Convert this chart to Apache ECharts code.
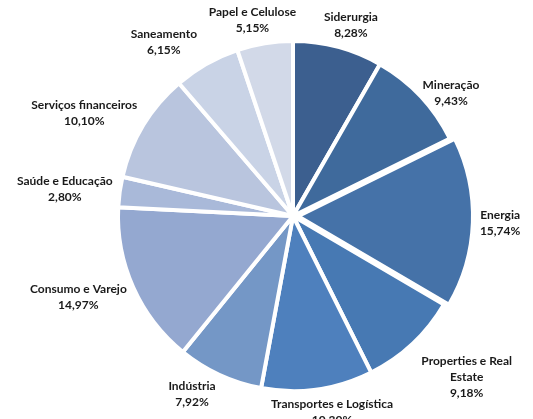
<!DOCTYPE html>
<html><head><meta charset="utf-8">
<script src="https://cdn.jsdelivr.net/npm/echarts@6/dist/echarts.min.js"></script>
<style>html,body{margin:0;padding:0;background:#fff}#c{width:533px;height:419px}</style>
</head><body><div id="c"></div>
<script>
const categories = ['Siderurgia','Mineração','Energia','Properties e Real\nEstate','Transportes e Logística','Indústria','Consumo e Varejo','Saúde e Educação','Serviços financeiros','Saneamento','Papel e Celulose'];
const values = [8.28, 9.43, 15.74, 9.18, 10.30, 7.92, 14.97, 2.80, 10.10, 6.15, 5.15];
const colors = ['#3c5f8f','#3f6a9c','#4572a8','#4779b3','#4e80bd','#7497c6','#94a8d0','#a9b9d9','#b9c5de','#c9d3e6','#d2d9e8'];
const explodedIndex = 2;

const CX = 293, CY = 216, R = 175, EXPLODE = 5, GAP = 7;
const total = values.reduce((a,b)=>a+b,0);
const midAngles = [];
let acc = 0;
values.forEach(v=>{ midAngles.push((acc + v/2)/total*2*Math.PI); acc += v; });
const ex = Math.sin(midAngles[explodedIndex]) * EXPLODE, ey = -Math.cos(midAngles[explodedIndex]) * EXPLODE;

// small label placement tweaks (text only, like Excel's best-fit placement)
const labelNudge = {1:[-3,13], 3:[4,11], 5:[-9,-2], 9:[-13,-2]};

const labelStyle = {show:true,position:'outside',formatter:p=>p.name+'\n'+values[p.dataIndex].toFixed(2).replace('.',',')+'%',
  fontFamily:'Lato',fontWeight:'bold',fontSize:12,color:'#1a1a1a',lineHeight:16,align:'center'};

function layoutLabel(p){
  const i = p.dataIndex;
  const a = midAngles[i];
  const ux = Math.sin(a), uy = -Math.cos(a);
  const w = p.labelRect.width/2, h = p.labelRect.height/2;
  const rr = R + GAP;
  const fx = Math.max(-1, Math.min(1, ux*1.6));
  let x = CX + rr*ux + fx*w, y = CY + rr*uy + uy*h;
  if (i === explodedIndex) { x += ex; y += ey; }
  if (labelNudge[i]) { x += labelNudge[i][0]; y += labelNudge[i][1]; }
  return {x, y, align:'center', verticalAlign:'middle', hideOverlap:false};
}

function makeData(showExploded){
  return categories.map((c,i)=>{
    const visible = (i === explodedIndex) === showExploded;
    return {name:c, value:values[i],
      itemStyle: visible ? {color:colors[i], borderColor:'#fff', borderWidth:4} : {color:'rgba(0,0,0,0)', borderWidth:0},
      label: {show: visible}};
  });
}

const chart = echarts.init(document.getElementById('c'));
const base = {type:'pie', radius:R, startAngle:90, clockwise:true, label:labelStyle, labelLine:{show:false},
  avoidLabelOverlap:false, labelLayout:layoutLabel, emphasis:{disabled:true}};
chart.setOption({
  animation:false,
  series:[
    Object.assign({}, base, {center:[CX,CY], data:makeData(false)}),
    Object.assign({}, base, {center:[CX+ex,CY+ey], data:makeData(true)})
  ]
});
</script></body></html>
